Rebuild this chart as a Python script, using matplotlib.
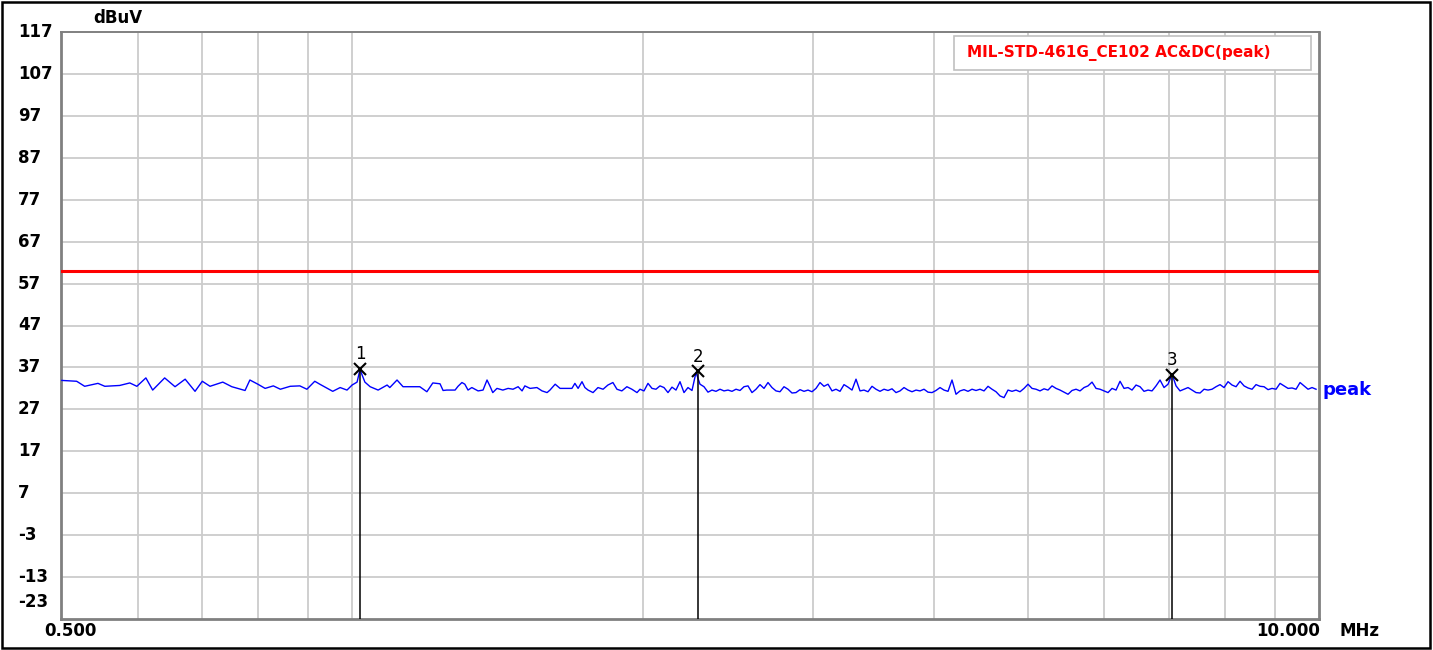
import numpy as np
import matplotlib
matplotlib.use("Agg")
import matplotlib.pyplot as plt
from matplotlib.patches import Rectangle
from matplotlib.ticker import NullLocator

# ---- data ----
# low part of the sweep, sparse points (MHz, dBuV)
low_freq = [0.501, 0.519, 0.529, 0.546, 0.555, 0.575, 0.589, 0.599, 0.612, 0.622,
            0.640, 0.656, 0.672, 0.688, 0.700, 0.713, 0.735, 0.751, 0.775, 0.784,
            0.799, 0.813, 0.829, 0.843, 0.863, 0.883, 0.898, 0.915, 0.926, 0.955,
            0.972, 0.988, 1.000, 1.012, 1.019, 1.031, 1.044, 1.064, 1.087, 1.094,
            1.113, 1.129, 1.175, 1.195, 1.212, 1.233, 1.242, 1.253, 1.278, 1.287,
            1.299, 1.308, 1.318, 1.330, 1.340, 1.350, 1.366, 1.379, 1.389, 1.398,
            1.412, 1.432, 1.450, 1.467, 1.485, 1.499, 1.509, 1.528, 1.553, 1.572,
            1.591, 1.602, 1.622, 1.641, 1.688, 1.700, 1.713, 1.729, 1.741, 1.754,
            1.775, 1.796, 1.818, 1.839, 1.861, 1.879, 1.901, 1.924, 1.947, 1.971,
            1.985]
low_level = [33.9, 33.7, 32.5, 33.2, 32.5, 32.7, 33.3, 32.5, 34.5, 31.6,
             34.5, 32.4, 34.2, 31.3, 33.7, 32.5, 33.5, 32.4, 31.5, 34.0,
             33.0, 32.0, 32.6, 31.8, 32.5, 32.6, 31.8, 33.7, 33.0, 31.3,
             32.2, 31.6, 32.8, 33.5, 36.5, 33.5, 32.4, 31.6, 32.8, 32.2,
             34.0, 32.4, 32.4, 31.2, 33.3, 33.1, 31.5, 31.6, 31.6, 32.5,
             33.4, 33.0, 31.6, 32.2, 31.8, 31.4, 31.6, 34.0, 32.5, 31.0,
             32.0, 31.6, 32.0, 31.8, 32.4, 31.4, 32.6, 32.0, 32.2, 31.4,
             31.0, 31.6, 33.0, 32.0, 32.0, 33.2, 32.0, 33.6, 32.2, 31.6,
             31.0, 32.2, 31.8, 32.8, 33.4, 31.8, 31.4, 32.4, 31.8, 31.0,
             31.8]

# dense part of the sweep 2.004 - 9.93 MHz (dBuV)
high_start, high_stop = 2.004, 9.93
high_level = [31.4, 33.2, 32.0, 31.8, 32.6, 32.2, 31.0, 32.3, 31.6, 33.6,
              31.0, 32.2, 31.5, 35.8, 33.0, 32.4, 31.1, 31.6, 31.3, 31.8,
              31.4, 31.6, 31.3, 31.8, 31.5, 32.4, 32.6, 31.0, 31.8, 32.9,
              32.0, 33.4, 32.2, 31.4, 31.2, 32.4, 31.8, 30.9, 31.0, 31.7,
              31.3, 31.6, 31.2, 32.0, 33.4, 32.5, 33.0, 31.4, 31.8, 31.3,
              32.9, 32.3, 31.6, 34.2, 31.4, 31.6, 31.2, 32.5, 31.8, 31.3,
              31.8, 31.5, 31.9, 31.0, 31.4, 32.2, 31.6, 31.2, 31.6, 31.4,
              31.8, 31.1, 31.0, 31.5, 32.2, 31.6, 31.3, 34.0, 30.6, 31.4,
              31.7, 31.3, 31.8, 31.5, 31.8, 31.4, 32.5, 31.8, 31.2, 30.2,
              29.8, 31.6, 31.3, 31.6, 31.2, 32.0, 33.0, 32.0, 31.8, 31.4,
              31.9, 31.6, 32.6, 32.0, 31.6, 31.1, 30.6, 31.5, 31.8, 31.4,
              32.2, 32.6, 33.5, 32.0, 31.8, 31.4, 31.0, 32.0, 31.6, 33.7,
              32.0, 32.2, 31.6, 32.8, 32.4, 31.3, 31.6, 31.4, 32.6, 34.0,
              32.2, 33.0, 35.4, 32.6, 31.4, 31.8, 32.2, 31.6, 31.0, 30.9,
              31.8, 31.6, 31.8, 32.4, 32.9, 32.2, 33.6, 32.8, 32.4, 33.7,
              32.6, 32.1, 31.8, 32.9, 32.5, 32.4, 31.7, 32.0, 31.8, 33.2,
              32.6, 32.0, 32.1, 31.8, 33.4, 32.6, 31.8, 32.2, 31.8]

limit_level = 60.0
limit_name = "MIL-STD-461G_CE102 AC&DC(peak)"

marker_freq = [1.019, 2.280, 7.05]
marker_level = [36.7, 36.1, 35.3]
marker_name = ["1", "2", "3"]

y_ticks = [117, 107, 97, 87, 77, 67, 57, 47, 37, 27, 17, 7, -3, -13, -23]
x_grid = [0.6, 0.7, 0.8, 0.9, 1, 2, 3, 4, 5, 6, 7, 8, 9]

# full trace
freq = np.concatenate([low_freq, np.geomspace(high_start, high_stop, len(high_level))])
level = np.concatenate([low_level, high_level])

# ---- figure ----
W, H = 1433, 650
fig = plt.figure(figsize=(W / 100, H / 100), dpi=100)
ax = fig.add_axes([61 / W, 1 - 619 / H, 1258 / W, 587 / H])

ax.set_xscale("log")
ax.set_xlim(0.5, 10)
ax.set_ylim(-23, 117)

# grid
ax.set_xticks(x_grid)
ax.xaxis.set_minor_locator(NullLocator())
ax.set_yticks(y_ticks[1:-1])
ax.tick_params(length=0, labelbottom=False, labelleft=False)
ax.grid(True, color="#cccccc", linewidth=1.3)
ax.set_axisbelow(True)

for side in ["left", "bottom", "right"]:
    ax.spines[side].set_color("#808080")
    ax.spines[side].set_linewidth(2.0)
ax.spines["top"].set_color("#808080")
ax.spines["top"].set_linewidth(1.4)

# limit line and trace
ax.axhline(limit_level, color="#ff0000", linewidth=2.2, zorder=3)
ax.plot(freq, level, color="#0000ff", linewidth=1.0, zorder=4)

# markers
ax.vlines(marker_freq, -23, marker_level, color="black", linewidth=1.1, zorder=5)
ax.plot(marker_freq, marker_level, "x", color="black", markersize=9, mew=1.5, zorder=6)
for f, v, n in zip(marker_freq, marker_level, marker_name):
    ax.annotate(n, (f, v), xytext=(0, 10.5), textcoords="offset points",
                ha="center", va="center", fontsize=12, zorder=6)

# y tick labels, left aligned near the frame, the last one pushed up
bold = dict(fontsize=12, fontweight="bold", family="DejaVu Sans")
yt = ax.get_yaxis_transform()
for v in y_ticks:
    dy = 12 if v == y_ticks[-1] else 0
    ax.annotate(str(v), (-43 / 1258, v), xycoords=yt, xytext=(0, dy),
                textcoords="offset points", ha="left", va="center", **bold)

ax.annotate("dBuV", (57 / 1258, 1), xycoords="axes fraction", xytext=(0, 10),
            textcoords="offset points", ha="center", va="center", **bold)
ax.annotate("0.500", (0.5, -23), xytext=(6.5, -9), textcoords="offset points",
            ha="center", va="center", annotation_clip=False, **bold)
ax.annotate("10.000", (10, -23), xytext=(1, -9), textcoords="offset points",
            ha="right", va="center", annotation_clip=False, **bold)
ax.annotate("MHz", (10, -23), xytext=(14.5, -9), textcoords="offset points",
            ha="left", va="center", annotation_clip=False, **bold)

# trace name at right edge
ax.annotate("peak", (1, 31.5), xycoords=yt, xytext=(2.5, 0), textcoords="offset points",
            ha="left", va="center", color="#0000ff", fontsize=13, fontweight="bold")

# limit legend box
ax.add_patch(Rectangle((893 / 1258, 1 - 38 / 587), 357 / 1258, 34 / 587,
                       transform=ax.transAxes, facecolor="white", edgecolor="#c0c0c0",
                       linewidth=1.2, zorder=7))
ax.text(906 / 1258, 1 - 21 / 587, limit_name, transform=ax.transAxes, color="#ff0000",
        ha="left", va="center", fontsize=11, fontweight="bold", zorder=8)

# outer frame
fig.patches.append(Rectangle((2 / W, 2 / H), 1428 / W, 646 / H, transform=fig.transFigure,
                             fill=False, edgecolor="black", linewidth=1.8))

fig.savefig("out.png", dpi=100)
